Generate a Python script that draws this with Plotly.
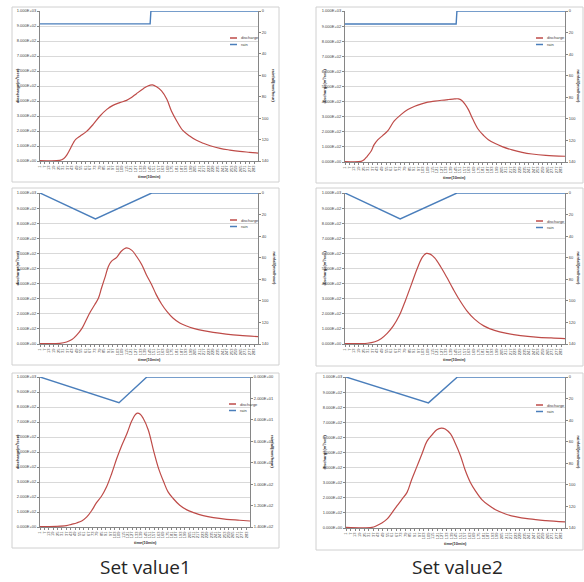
import plotly.graph_objects as go

W, H = 584, 582

# ---------------- data ----------------
time_ticks = [1, 7, 13, 19, 25, 31, 37, 43, 49, 55, 61, 67, 73, 79, 85, 91, 97, 103, 109, 115,
              121, 127, 133, 139, 145, 151, 157, 163, 169, 175, 181, 187, 193, 199, 205, 211,
              217, 223, 229, 235, 241, 247, 253, 259, 265, 271, 277, 283]
time_labels = [str(v) for v in time_ticks]

q_ticks = [0, 100, 200, 300, 400, 500, 600, 700, 800, 900, 1000]
q_labels = ["0.000E+00", "1.000E+02", "2.000E+02", "3.000E+02", "4.000E+02", "5.000E+02",
            "6.000E+02", "7.000E+02", "8.000E+02", "9.000E+02", "1.000E+03"]
r_ticks = [0, 20, 40, 60, 80, 100, 120, 140]
r_labels = ["0", "20", "40", "60", "80", "100", "120", "140"]
r_labels_sci = ["0.000E+00", "2.000E+01", "4.000E+01", "6.000E+01", "8.000E+01",
                "1.000E+02", "1.200E+02", "1.400E+02"]

# panel 1 (top-left)
q1_t = [1, 27, 32, 36, 40, 45, 48, 54, 62, 71, 80, 89, 97, 106, 115, 121, 128, 137, 143, 149,
        154, 161, 168, 174, 181, 189, 198, 207, 216, 225, 238, 251, 264, 277, 288]
q1 = [3, 4, 15, 38, 73, 122, 144, 167, 196, 244, 300, 344, 371, 389, 404, 422, 449, 482, 500, 507,
      496, 467, 411, 333, 267, 204, 167, 138, 118, 102, 84, 73, 64, 58, 53]
r1_t = [1, 146, 147, 288]
r1 = [12, 12, 0, 0]

# panel 2 (top-right)
q2_t = [1, 22, 26, 30, 35, 39, 44, 50, 57, 65, 74, 83, 92, 101, 109, 118, 127, 136, 144, 149,
        153, 157, 162, 168, 175, 182, 188, 197, 206, 219, 232, 245, 263, 288]
q2 = [3, 4, 15, 38, 71, 115, 148, 175, 208, 270, 314, 347, 369, 385, 396, 403, 409, 414, 418, 418,
      409, 387, 347, 281, 215, 175, 148, 122, 102, 80, 64, 53, 44, 38]
r2_t = [1, 146, 147, 288]
r2 = [12, 12, 0, 0]

# panel 3 (middle-left)
q3_t = [1, 27, 36, 43, 49, 56, 62, 67, 73, 78, 82, 87, 91, 95, 102, 108, 115, 122, 128, 135,
        141, 148, 154, 161, 168, 176, 185, 194, 203, 216, 229, 246, 264, 288]
q3 = [3, 4, 13, 29, 57, 102, 161, 210, 260, 305, 371, 448, 514, 547, 574, 614, 636, 620, 581, 525,
      459, 393, 327, 265, 216, 172, 139, 119, 104, 88, 77, 66, 57, 49]
r3_t = [1, 74, 148, 288]
r3 = [0, 24, 0, 0]

# panel 4 (middle-right)
q4_t = [1, 30, 40, 48, 56, 64, 72, 80, 88, 96, 102, 107, 112, 118, 126, 134, 142, 150, 160, 170,
        182, 196, 212, 230, 250, 270, 288]
q4 = [3, 5, 15, 35, 70, 120, 190, 290, 400, 510, 575, 600, 595, 570, 510, 440, 365, 295, 220, 165,
      120, 90, 70, 56, 46, 40, 36]
r4_t = [1, 73, 147, 288]
r4 = [0, 24, 0, 0]

# panel 5 (bottom-left)
q5_t = [1, 37, 44, 51, 58, 65, 72, 78, 85, 92, 99, 106, 113, 120, 126, 131, 134, 138, 142, 149,
        156, 163, 170, 176, 183, 192, 201, 211, 224, 238, 256, 274, 288]
q5 = [2, 9, 18, 27, 40, 67, 112, 161, 205, 268, 357, 458, 547, 625, 703, 748, 759, 752, 725, 647,
      513, 391, 301, 234, 190, 145, 116, 96, 76, 62, 51, 45, 40]
r5_t = [1, 109, 147, 288]
r5 = [0, 24, 0, 0]

# panel 6 (bottom-right)
q6_t = [1, 35, 41, 48, 55, 61, 68, 74, 81, 87, 94, 101, 107, 114, 120, 126, 131, 138, 144, 151,
        157, 164, 171, 179, 188, 197, 210, 223, 241, 263, 288]
q6 = [4, 4, 15, 33, 60, 99, 148, 188, 236, 320, 408, 497, 574, 618, 651, 662, 656, 623, 563, 479,
      386, 302, 243, 188, 150, 121, 93, 75, 60, 49, 40]
r6_t = [1, 109, 147, 288]
r6 = [0, 24, 0, 0]

captions = ["Set value1", "Set value2"]
series_names = ["discharge", "rain"]
x_title = "time(10min)"
yl_title = "discharge(m³/sec)"
yr_title = "rainfall(mm/hour)"

# ---------------- layout helpers ----------------
def fx(x):
    return x / W

def fy(y):
    return 1 - y / H

RED = "#be4b48"
BLUE = "#4a7ebb"
AXC = "#868686"
GRID = "#d9d9d9"
FONT = "Liberation Sans"

panels = [
    dict(q=(q1_t, q1), r=(r1_t, r1), plot=(40, 11, 258, 161), border=(12, 7, 279, 182),
         leg=(230, 38), rl=r_labels, rt=274, lt=17),
    dict(q=(q2_t, q2), r=(r2_t, r2), plot=(345, 11, 565, 162), border=(316, 7, 583, 183),
         leg=(536, 38), rl=r_labels, rt=578, lt=324),
    dict(q=(q3_t, q3), r=(r3_t, r3), plot=(40, 193, 258, 344), border=(12, 188, 279, 365),
         leg=(230, 220), rl=r_labels, rt=274, lt=17),
    dict(q=(q4_t, q4), r=(r4_t, r4), plot=(345, 193, 565, 344), border=(316, 188, 583, 366),
         leg=(536, 221), rl=r_labels, rt=578, lt=324),
    dict(q=(q5_t, q5), r=(r5_t, r5), plot=(40, 377, 250, 527), border=(12, 373, 279, 548),
         leg=(229, 404), rl=r_labels_sci, rt=273, lt=17),
    dict(q=(q6_t, q6), r=(r6_t, r6), plot=(346, 377, 565, 528), border=(316, 373, 583, 550),
         leg=(536, 405), rl=r_labels, rt=578, lt=324),
]

fig = go.Figure()
layout = dict(width=W, height=H, margin=dict(l=0, r=0, t=0, b=0),
              paper_bgcolor="white", plot_bgcolor="white", showlegend=False,
              font=dict(family=FONT, color="#404040"))
shapes = []
annotations = []

for k, p in enumerate(panels, start=1):
    xa = "x" if k == 1 else f"x{k}"
    ya_l = "y" if k == 1 else f"y{2*k-1}"
    ya_r = f"y{2*k}"
    l, t, r, b = p["plot"]
    dom_x = [fx(l), fx(r)]
    dom_y = [fy(b), fy(t)]

    fig.add_trace(go.Scatter(x=p["q"][0], y=p["q"][1], mode="lines", name=series_names[0],
                             line=dict(color=RED, width=1.2, shape="spline", smoothing=1.0),
                             xaxis=xa, yaxis=ya_l))
    fig.add_trace(go.Scatter(x=p["r"][0], y=p["r"][1], mode="lines", name=series_names[1],
                             line=dict(color=BLUE, width=1.4),
                             xaxis=xa, yaxis=ya_r))

    xkey = "xaxis" if k == 1 else f"xaxis{k}"
    ylkey = "yaxis" if k == 1 else f"yaxis{2*k-1}"
    yrkey = f"yaxis{2*k}"
    layout[xkey] = dict(domain=dom_x, anchor=ya_l, range=[1, 288], tickmode="array",
                        tickvals=time_ticks, ticktext=time_labels, tickangle=-90,
                        tickfont=dict(size=4, color="#404040"), showgrid=False,
                        showline=True, linecolor=AXC, linewidth=1, ticks="outside",
                        ticklen=2, tickcolor=AXC, zeroline=False, automargin=False)
    layout[ylkey] = dict(domain=dom_y, anchor=xa, range=[0, 1000], tickmode="array",
                         tickvals=q_ticks, ticktext=q_labels, tickfont=dict(size=4, color="#404040"),
                         showgrid=True, gridcolor=GRID, gridwidth=1, showline=True,
                         linecolor=AXC, linewidth=1, ticks="outside", ticklen=2,
                         tickcolor=AXC, zeroline=False, automargin=False)
    layout[yrkey] = dict(overlaying=ya_l, anchor=xa, side="right", range=[140, 0],
                         tickmode="array", tickvals=r_ticks, ticktext=p["rl"],
                         tickfont=dict(size=4, color="#404040"), showgrid=False,
                         showline=True, linecolor=AXC, linewidth=1, ticks="outside",
                         ticklen=2, tickcolor=AXC, zeroline=False, automargin=False)

    bl, bt, br, bb = p["border"]
    shapes.append(dict(type="rect", xref="paper", yref="paper", x0=fx(bl), x1=fx(br),
                       y0=fy(bb), y1=fy(bt), line=dict(color="#d0d0d0", width=1), layer="below"))

    lx, ly = p["leg"]
    for j, (nm, col) in enumerate(zip(series_names, [RED, BLUE])):
        yy = ly + j * 6.5
        shapes.append(dict(type="line", xref="paper", yref="paper", x0=fx(lx), x1=fx(lx + 7),
                           y0=fy(yy), y1=fy(yy), line=dict(color=col, width=1.5)))
        annotations.append(dict(x=fx(lx + 8.5), y=fy(yy), xref="paper", yref="paper", text=nm,
                                showarrow=False, xanchor="left", yanchor="middle",
                                font=dict(size=4, color="#404040")))

    annotations.append(dict(x=fx(p["lt"]), y=fy((t + b) / 2), xref="paper", yref="paper",
                            text="<b>" + yl_title + "</b>", textangle=-90, showarrow=False,
                            xanchor="center", yanchor="middle", font=dict(size=4, color="#303030")))
    annotations.append(dict(x=fx(p["rt"]), y=fy((t + b) / 2), xref="paper", yref="paper",
                            text="<b>" + yr_title + "</b>", textangle=90, showarrow=False,
                            xanchor="center", yanchor="middle", font=dict(size=4, color="#303030")))
    annotations.append(dict(x=fx((l + r) / 2), y=fy(b + 15), xref="paper", yref="paper",
                            text="<b>" + x_title + "</b>", showarrow=False,
                            xanchor="center", yanchor="middle", font=dict(size=4, color="#303030")))

for cx, txt in zip([145, 457], captions):
    annotations.append(dict(x=fx(cx), y=fy(567), xref="paper", yref="paper", text=txt,
                            showarrow=False, xanchor="center", yanchor="middle",
                            font=dict(size=19, color="#262626", family="Open Sans")))

layout["shapes"] = shapes
layout["annotations"] = annotations
fig.update_layout(**layout)
fig.write_html("out.html", config={"displayModeBar": False},
               post_script="document.body.style.margin='0';document.body.style.overflow='hidden';")
